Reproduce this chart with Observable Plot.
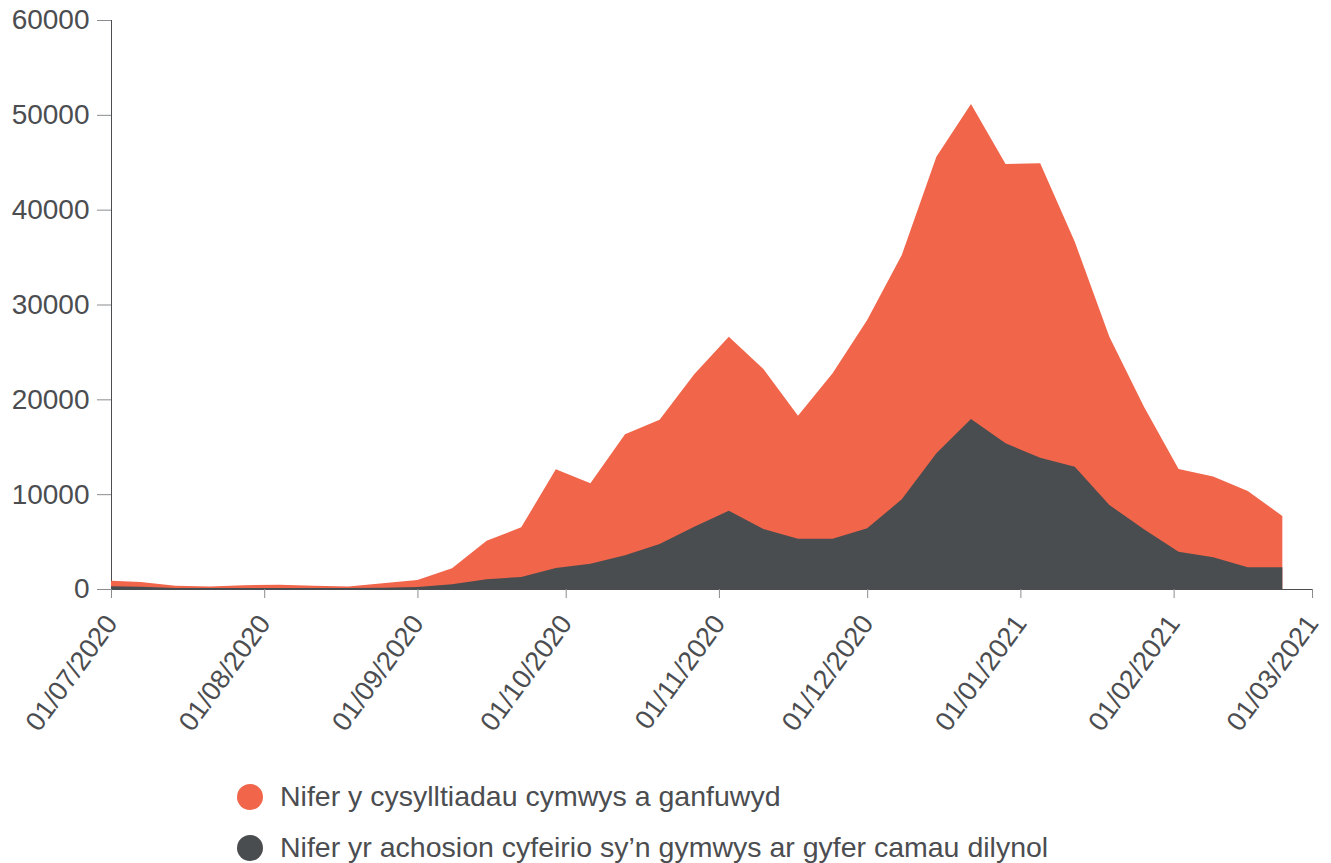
<!DOCTYPE html>
<html>
<head>
<meta charset="utf-8">
<script src="https://cdn.jsdelivr.net/npm/d3@7"></script>
<script src="https://cdn.jsdelivr.net/npm/@observablehq/plot@0.6"></script>
<style>
  html, body { margin: 0; padding: 0; background: #fff; }
  body { width: 1331px; font-family: "Liberation Sans", Arial, sans-serif; }
  #chart svg g[aria-label*="axis"] line,
  #chart svg g[aria-label*="axis"] path { stroke: #8a8c8f; stroke-opacity: 1; }
  #chart svg g[aria-label^="x-axis"] text { font-size: 27px; }
  .legend { position: relative; height: 92px; font-size: 28.5px; color: #4b4d50; }
  .row { position: absolute; left: 237px; height: 51px; display: flex; align-items: center; }
  .dot { width: 26px; height: 26px; border-radius: 50%; margin-right: 17px; }
</style>
</head>
<body>
<div id="chart"></div>
<div class="legend" id="legend"></div>
<script>
// Week dates (Tuesdays)
const dates = [
  "2020-06-30","2020-07-07","2020-07-14","2020-07-21","2020-07-28",
  "2020-08-04","2020-08-11","2020-08-18","2020-08-25",
  "2020-09-01","2020-09-08","2020-09-15","2020-09-22","2020-09-29",
  "2020-10-06","2020-10-13","2020-10-20","2020-10-27",
  "2020-11-03","2020-11-10","2020-11-17","2020-11-24",
  "2020-12-01","2020-12-08","2020-12-15","2020-12-22","2020-12-29",
  "2021-01-05","2021-01-12","2021-01-19","2021-01-26",
  "2021-02-02","2021-02-09","2021-02-16","2021-02-23"
];
// Nifer y cysylltiadau cymwys a ganfuwyd
const contacts = [
  880, 750, 340, 270, 400,
  440, 340, 270, 600,
  950, 2180, 5100, 6500, 12620,
  11150, 16310, 17860, 22640,
  26610, 23200, 18280, 22740,
  28370, 35220, 45590, 51140, 44820,
  44890, 36620, 26600, 19220,
  12650, 11850, 10330, 7700
];
// Nifer yr achosion cyfeirio sy'n gymwys ar gyfer camau dilynol
const cases = [
  300, 250, 110, 100, 100,
  100, 100, 100, 120,
  200, 490, 1020, 1270, 2210,
  2670, 3550, 4750, 6570,
  8260, 6330, 5310, 5310,
  6400, 9460, 14310, 17930, 15360,
  13850, 12900, 8860, 6290,
  3940, 3340, 2290, 2290
];
const xTicks = ["2020-07-01","2020-08-01","2020-09-01","2020-10-01","2020-11-01","2020-12-01","2021-01-01","2021-02-01","2021-03-01"];
const yTicks = [0, 10000, 20000, 30000, 40000, 50000, 60000];
const seriesNames = ["Nifer y cysylltiadau cymwys a ganfuwyd", "Nifer yr achosion cyfeirio sy’n gymwys ar gyfer camau dilynol"];
const colors = ["#f1654a", "#4a4d50"];

const parse = d3.utcParse("%Y-%m-%d");
const data = dates.map((d, i) => ({date: parse(d), contacts: contacts[i], cases: cases[i]}));
const fmt = d3.utcFormat("%d/%m/%Y");

const plot = Plot.plot({
  width: 1331,
  height: 771,
  marginLeft: 111,
  marginRight: 19,
  marginTop: 20,
  marginBottom: 182,
  style: {fontFamily: "'Liberation Sans', Arial, sans-serif", fontSize: "28px", color: "#4b4d50", background: "#fff"},
  x: {
    type: "utc",
    domain: [parse(xTicks[0]), parse(xTicks[xTicks.length - 1])],
    ticks: xTicks.map(parse),
    tickFormat: fmt,
    tickRotate: -54,
    tickSize: 9,
    tickPadding: 20,
    line: true,
    label: null
  },
  y: {
    domain: [0, 60000],
    ticks: yTicks,
    tickFormat: d => String(d),
    tickSize: 14,
    tickPadding: 8,
    line: true,
    label: null
  },
  marks: [
    Plot.areaY(data, {x: "date", y: "contacts", fill: colors[0], clip: true}),
    Plot.areaY(data, {x: "date", y: "cases", fill: colors[1], clip: true})
  ]
});
document.getElementById("chart").appendChild(plot);

const legend = document.getElementById("legend");
seriesNames.forEach((name, i) => {
  const row = document.createElement("div");
  row.className = "row";
  row.style.top = (i * 51) + "px";
  const dot = document.createElement("div");
  dot.className = "dot";
  dot.style.background = colors[i];
  const label = document.createElement("span");
  label.textContent = name;
  row.appendChild(dot);
  row.appendChild(label);
  legend.appendChild(row);
});
</script>
</body>
</html>
